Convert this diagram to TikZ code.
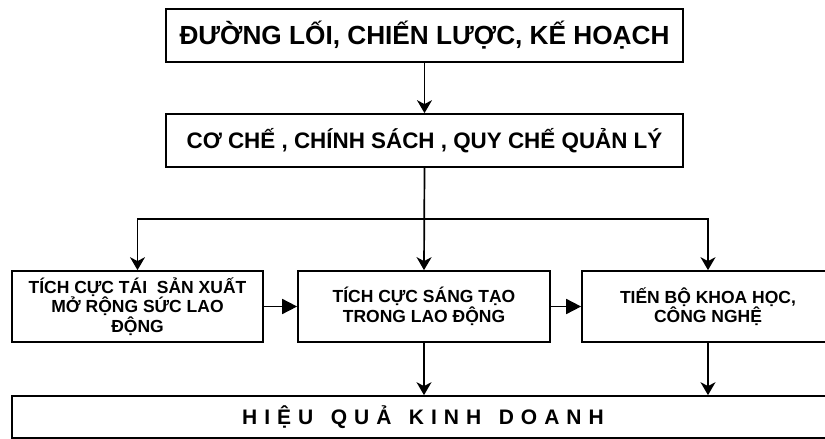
\documentclass[tikz,border=0pt]{standalone}
\usepackage{fontspec}
\setmainfont{Liberation Sans}
\usetikzlibrary{arrows.meta,calc}
\tikzset{
  box/.style={draw,line width=1.7pt,inner sep=0pt,align=center,font=\bfseries},
  vline/.style={line width=1.7pt,-{Stealth[length=13pt,width=15pt,inset=4pt]}},
  hline/.style={line width=1.7pt,-{Triangle[length=15pt,width=15pt]}},
  smalltext/.style={font=\bfseries\fontsize{17.5}{19.5}\selectfont}
}
\begin{document}
\begin{tikzpicture}[x=1pt,y=-1pt]
\clip (0,0) rectangle (825,439);
\fill[white] (0,0) rectangle (825,439);
\node[box,minimum width=517pt,minimum height=53pt,font=\bfseries\fontsize{26.2}{30}\selectfont] (top) at (424.5,35.5) {ĐƯỜNG LỐI, CHIẾN LƯỢC, KẾ HOẠCH};
\node[box,minimum width=517pt,minimum height=53pt,font=\bfseries\fontsize{22.4}{26}\selectfont] (mid) at (424.5,140.5) {CƠ CHẾ , CHÍNH SÁCH , QUY CHẾ QUẢN LÝ};
\node[box,smalltext,minimum width=251pt,minimum height=71pt] (l) at (137.5,306.5) {TÍCH CỰC TÁI\ \ SẢN XUẤT\\MỞ RỘNG SỨC LAO\\ĐỘNG};
\node[box,smalltext,minimum width=252pt,minimum height=71pt] (c) at (424,306.5) {TÍCH CỰC SÁNG TẠO\\TRONG LAO ĐỘNG};
\node[box,smalltext,minimum width=252pt,minimum height=71pt] (r) at (708,306.5) {TIẾN BỘ KHOA HỌC,\\CÔNG NGHỆ};
\node[box,minimum width=822pt,minimum height=42pt,font=\bfseries\fontsize{21}{25}\selectfont] (bot) at (423,417) {H\,\,I\,\,Ệ\,\,U\ \ \ Q\,\,U\,\,Ả\ \ \ K\,\,I\,\,N\,\,H\ \ \ D\,\,O\,\,A\,\,N\,\,H};
\coordinate (j) at (424,219);
\draw[vline] (top) -- (mid);
\draw[vline] (mid.south) -- (c.north);
\draw[vline] (j) -| (l.north);
\draw[vline] (j) -| (r.north);
\draw[hline] (l.east) -- (c.west);
\draw[hline] (c.east) -- (r.west);
\draw[vline] (c.south) -- (c.south |- bot.north);
\draw[vline] (r.south) -- (r.south |- bot.north);
\end{tikzpicture}
\end{document}
